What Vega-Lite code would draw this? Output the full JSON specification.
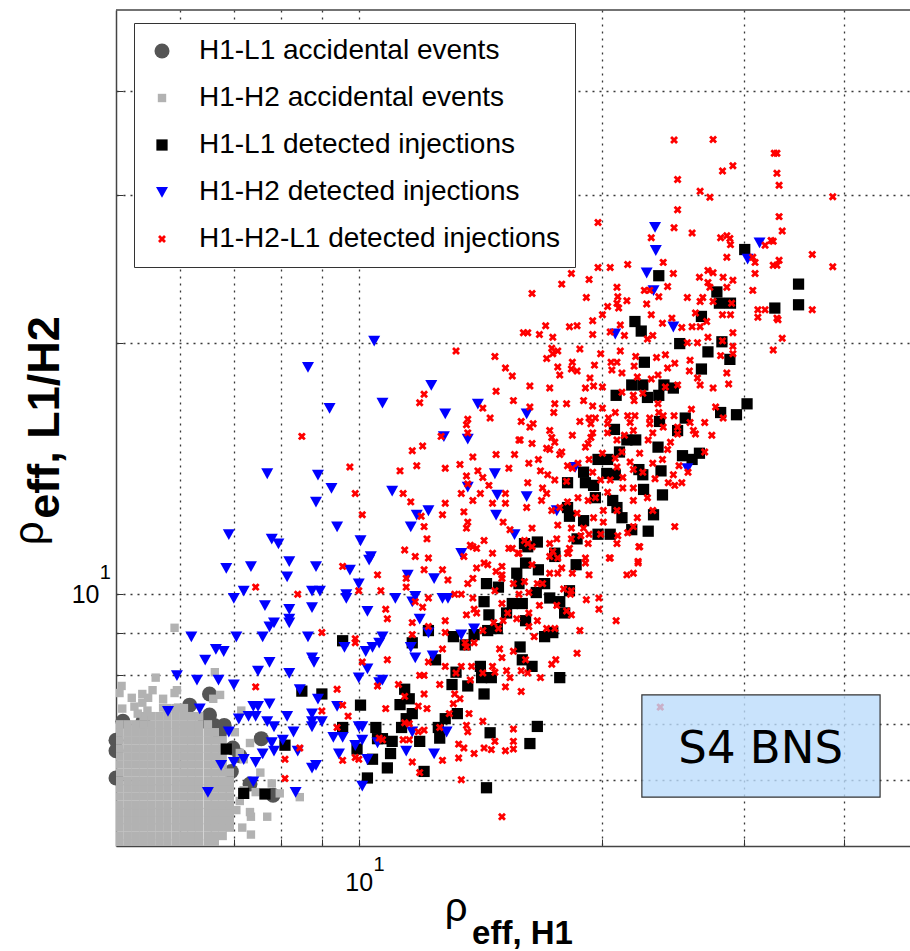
{"$schema":"https://vega.github.io/schema/vega-lite/v6.json","width":794,"height":836,"autosize":"none","padding":{"left":116,"top":10,"right":0,"bottom":105},"background":"white",
"config":{"view":{"stroke":null},"axis":{"grid":true,"gridColor":"#222","gridDash":[2,5],"gridWidth":1.3,"gridOpacity":0.9,"domainColor":"#444","domainWidth":1.5,"tickColor":"#333","tickSize":-7,"tickWidth":1,"labelFont":"Liberation Sans","labelFontSize":25,"labelColor":"#000","titleFont":"Liberation Sans","titleColor":"#000","labelOverlap":false,"labelFlush":false}},
"datasets":{
"dark":[{"x":6.53,"y":7.6},{"x":6.17,"y":7.37},{"x":6.45,"y":7.05},{"x":6.62,"y":6.97},{"x":6.72,"y":6.82},{"x":7.57,"y":6.72},{"x":6.98,"y":6.55},{"x":7.83,"y":5.75},{"x":5,"y":6.69},{"x":5,"y":6.5},{"x":5,"y":6.03},{"x":5.1,"y":7.05},{"x":5.4,"y":7.05},{"x":7.33,"y":5.93},{"x":7.12,"y":6.41},{"x":6.95,"y":6.14},{"x":6.81,"y":6.97},{"x":6.53,"y":7.17}],
"gray":[{"x":5.05,"y":5.03},{"x":5.05,"y":5.14},{"x":5.05,"y":5.26},{"x":5.05,"y":5.37},{"x":5.05,"y":5.49},{"x":5.05,"y":5.6},{"x":5.05,"y":5.73},{"x":5.05,"y":5.86},{"x":5.05,"y":5.98},{"x":5.05,"y":6.12},{"x":5.05,"y":6.26},{"x":5.05,"y":6.4},{"x":5.05,"y":6.54},{"x":5.05,"y":6.69},{"x":5.05,"y":6.84},{"x":5.05,"y":6.99},
{"x":5.17,"y":5.03},{"x":5.17,"y":5.14},{"x":5.17,"y":5.26},{"x":5.17,"y":5.37},{"x":5.17,"y":5.49},{"x":5.17,"y":5.6},{"x":5.17,"y":5.73},{"x":5.17,"y":5.86},{"x":5.17,"y":5.98},{"x":5.17,"y":6.12},{"x":5.17,"y":6.26},{"x":5.17,"y":6.4},{"x":5.17,"y":6.54},{"x":5.17,"y":6.69},{"x":5.17,"y":6.84},{"x":5.17,"y":6.99},
{"x":5.29,"y":5.03},{"x":5.29,"y":5.14},{"x":5.29,"y":5.26},{"x":5.29,"y":5.37},{"x":5.29,"y":5.49},{"x":5.29,"y":5.6},{"x":5.29,"y":5.73},{"x":5.29,"y":5.86},{"x":5.29,"y":5.98},{"x":5.29,"y":6.12},{"x":5.29,"y":6.26},{"x":5.29,"y":6.4},{"x":5.29,"y":6.54},{"x":5.29,"y":6.69},{"x":5.29,"y":6.84},{"x":5.29,"y":6.99},
{"x":5.41,"y":5.03},{"x":5.41,"y":5.14},{"x":5.41,"y":5.26},{"x":5.41,"y":5.37},{"x":5.41,"y":5.49},{"x":5.41,"y":5.6},{"x":5.41,"y":5.73},{"x":5.41,"y":5.86},{"x":5.41,"y":5.98},{"x":5.41,"y":6.12},{"x":5.41,"y":6.26},{"x":5.41,"y":6.4},{"x":5.41,"y":6.54},{"x":5.41,"y":6.69},{"x":5.41,"y":6.84},{"x":5.41,"y":6.99},{"x":5.41,"y":7.15},
{"x":5.53,"y":5.03},{"x":5.53,"y":5.14},{"x":5.53,"y":5.26},{"x":5.53,"y":5.37},{"x":5.53,"y":5.49},{"x":5.53,"y":5.6},{"x":5.53,"y":5.73},{"x":5.53,"y":5.86},{"x":5.53,"y":5.98},{"x":5.53,"y":6.12},{"x":5.53,"y":6.26},{"x":5.53,"y":6.4},{"x":5.53,"y":6.54},{"x":5.53,"y":6.69},{"x":5.53,"y":6.84},{"x":5.53,"y":6.99},{"x":5.53,"y":7.15},
{"x":5.66,"y":5.03},{"x":5.66,"y":5.14},{"x":5.66,"y":5.26},{"x":5.66,"y":5.37},{"x":5.66,"y":5.49},{"x":5.66,"y":5.6},{"x":5.66,"y":5.73},{"x":5.66,"y":5.86},{"x":5.66,"y":5.98},{"x":5.66,"y":6.12},{"x":5.66,"y":6.26},{"x":5.66,"y":6.4},{"x":5.66,"y":6.54},{"x":5.66,"y":6.69},{"x":5.66,"y":6.84},{"x":5.66,"y":6.99},{"x":5.66,"y":7.15},
{"x":5.79,"y":5.03},{"x":5.79,"y":5.14},{"x":5.79,"y":5.26},{"x":5.79,"y":5.37},{"x":5.79,"y":5.49},{"x":5.79,"y":5.6},{"x":5.79,"y":5.73},{"x":5.79,"y":5.86},{"x":5.79,"y":5.98},{"x":5.79,"y":6.12},{"x":5.79,"y":6.26},{"x":5.79,"y":6.4},{"x":5.79,"y":6.54},{"x":5.79,"y":6.69},{"x":5.79,"y":6.84},{"x":5.79,"y":6.99},{"x":5.79,"y":7.15},{"x":5.79,"y":7.31},
{"x":5.93,"y":5.03},{"x":5.93,"y":5.14},{"x":5.93,"y":5.26},{"x":5.93,"y":5.37},{"x":5.93,"y":5.49},{"x":5.93,"y":5.6},{"x":5.93,"y":5.73},{"x":5.93,"y":5.86},{"x":5.93,"y":5.98},{"x":5.93,"y":6.12},{"x":5.93,"y":6.26},{"x":5.93,"y":6.4},{"x":5.93,"y":6.54},{"x":5.93,"y":6.69},{"x":5.93,"y":6.84},{"x":5.93,"y":6.99},{"x":5.93,"y":7.15},{"x":5.93,"y":7.31},
{"x":6.07,"y":5.03},{"x":6.07,"y":5.14},{"x":6.07,"y":5.26},{"x":6.07,"y":5.37},{"x":6.07,"y":5.49},{"x":6.07,"y":5.6},{"x":6.07,"y":5.73},{"x":6.07,"y":5.86},{"x":6.07,"y":5.98},{"x":6.07,"y":6.12},{"x":6.07,"y":6.26},{"x":6.07,"y":6.4},{"x":6.07,"y":6.54},{"x":6.07,"y":6.69},{"x":6.07,"y":6.84},{"x":6.07,"y":6.99},{"x":6.07,"y":7.15},{"x":6.07,"y":7.31},
{"x":6.2,"y":5.03},{"x":6.2,"y":5.14},{"x":6.2,"y":5.26},{"x":6.2,"y":5.37},{"x":6.2,"y":5.49},{"x":6.2,"y":5.6},{"x":6.2,"y":5.73},{"x":6.2,"y":5.86},{"x":6.2,"y":5.98},{"x":6.2,"y":6.12},{"x":6.2,"y":6.26},{"x":6.2,"y":6.4},{"x":6.2,"y":6.54},{"x":6.2,"y":6.69},{"x":6.2,"y":6.84},{"x":6.2,"y":6.99},{"x":6.2,"y":7.15},
{"x":6.34,"y":5.03},{"x":6.34,"y":5.14},{"x":6.34,"y":5.26},{"x":6.34,"y":5.37},{"x":6.34,"y":5.49},{"x":6.34,"y":5.6},{"x":6.34,"y":5.73},{"x":6.34,"y":5.86},{"x":6.34,"y":5.98},{"x":6.34,"y":6.12},{"x":6.34,"y":6.26},{"x":6.34,"y":6.4},{"x":6.34,"y":6.54},{"x":6.34,"y":6.69},{"x":6.34,"y":6.84},{"x":6.34,"y":6.99},{"x":6.34,"y":7.15},
{"x":6.5,"y":5.03},{"x":6.5,"y":5.14},{"x":6.5,"y":5.26},{"x":6.5,"y":5.37},{"x":6.5,"y":5.49},{"x":6.5,"y":5.6},{"x":6.5,"y":5.73},{"x":6.5,"y":5.86},{"x":6.5,"y":5.98},{"x":6.5,"y":6.12},{"x":6.5,"y":6.26},{"x":6.5,"y":6.4},{"x":6.5,"y":6.54},{"x":6.5,"y":6.69},{"x":6.5,"y":6.84},{"x":6.5,"y":6.99},
{"x":6.63,"y":5.03},{"x":6.63,"y":5.14},{"x":6.63,"y":5.26},{"x":6.63,"y":5.37},{"x":6.63,"y":5.49},{"x":6.63,"y":5.6},{"x":6.63,"y":5.73},{"x":6.63,"y":5.86},{"x":6.63,"y":5.98},{"x":6.63,"y":6.12},{"x":6.63,"y":6.26},{"x":6.63,"y":6.4},{"x":6.63,"y":6.54},{"x":6.63,"y":6.69},{"x":6.63,"y":6.84},
{"x":6.78,"y":5.14},{"x":6.78,"y":5.26},{"x":6.78,"y":5.37},{"x":6.78,"y":5.49},{"x":6.78,"y":5.6},{"x":6.78,"y":5.73},{"x":6.78,"y":5.86},{"x":6.78,"y":5.98},{"x":6.78,"y":6.12},{"x":6.78,"y":6.26},{"x":6.78,"y":6.4},{"x":6.78,"y":6.54},{"x":6.78,"y":6.69},
{"x":6.92,"y":5.26},{"x":6.92,"y":5.37},{"x":6.92,"y":5.49},{"x":6.92,"y":5.6},{"x":6.92,"y":5.73},{"x":6.92,"y":5.86},{"x":6.92,"y":5.98},{"x":6.92,"y":6.12},
{"x":5.08,"y":7.77},{"x":5.05,"y":7.62},{"x":5.23,"y":7.52},{"x":5.39,"y":7.6},{"x":5.55,"y":7.68},{"x":5.6,"y":7.95},{"x":5.39,"y":7.42},{"x":5.48,"y":7.52},{"x":5.72,"y":7.5},{"x":5.95,"y":7.68},{"x":5.91,"y":7.62},{"x":5.09,"y":7.3},{"x":5.27,"y":7.34},{"x":5.32,"y":7.2},{"x":5.47,"y":7.26},{"x":5.72,"y":7.32},{"x":5.97,"y":7.32},{"x":6.63,"y":8.07},{"x":5.91,"y":9.12},{"x":6.6,"y":7.5},{"x":6.73,"y":7.58},{"x":7.02,"y":6.84},{"x":7.33,"y":6.64},{"x":7.15,"y":7.26},{"x":7.12,"y":6.46},{"x":7.2,"y":6.35},{"x":7.55,"y":6.12},{"x":7.45,"y":5.8},{"x":7.8,"y":5.94},{"x":7.98,"y":5.78},{"x":8.45,"y":5.72},{"x":7.7,"y":5.42},{"x":7.35,"y":5.42},{"x":7.35,"y":5.16},{"x":7.17,"y":5.26},{"x":7.33,"y":5.49},{"x":7.12,"y":5.66},{"x":7.05,"y":5.52},{"x":7.2,"y":5.83}],
"black":[{"x":16.05,"y":11.5},{"x":17.5,"y":11.1},{"x":16.1,"y":10.9},{"x":16.7,"y":10.7},{"x":18.6,"y":10.85},{"x":15.7,"y":10.6},{"x":14.4,"y":10.3},{"x":14.9,"y":10.2},{"x":15.8,"y":10.3},{"x":17,"y":10.3},{"x":18.25,"y":10.1},{"x":16.6,"y":10.05},{"x":17.25,"y":9.9},{"x":14.3,"y":9.8},{"x":15.5,"y":9.75},{"x":15.95,"y":9.75},{"x":15.25,"y":9.5},{"x":14.5,"y":9.45},{"x":17.75,"y":9.8},{"x":18,"y":9.5},{"x":16.1,"y":9.3},{"x":14.45,"y":9.05},{"x":14.85,"y":9.1},{"x":17,"y":8.9},{"x":17.4,"y":9},{"x":13.1,"y":8.9},{"x":13.9,"y":8.95},{"x":13.55,"y":8.7},{"x":12.2,"y":9.05},{"x":11.65,"y":8.75},{"x":12.45,"y":8.35},{"x":15.85,"y":8.65},{"x":15.95,"y":8.35},{"x":16.4,"y":8.2},{"x":14.15,"y":8.2},{"x":14.2,"y":7.95},{"x":14.6,"y":7.95},{"x":13.2,"y":8.07},{"x":13.05,"y":7.8},{"x":13.65,"y":7.77},{"x":14.3,"y":7.6},{"x":17.75,"y":7.95},{"x":11.4,"y":7.7},{"x":11.55,"y":7.5},{"x":11.25,"y":7.38},{"x":11.65,"y":7.2},{"x":11.45,"y":7.1},{"x":13.25,"y":7.2},{"x":12.8,"y":7.1},{"x":11.3,"y":6.93},{"x":11,"y":6.67},{"x":10.95,"y":6.45},{"x":12.55,"y":6.93},{"x":12.6,"y":6.73},{"x":11.9,"y":6.67},{"x":14.55,"y":6.83},{"x":16.65,"y":6.95},{"x":16.3,"y":6.63},{"x":10.85,"y":6.2},{"x":12.05,"y":6.14},{"x":14.4,"y":5.87},{"x":10.7,"y":6.72},
{"x":27.8,"y":23},{"x":28,"y":22.3},{"x":28.9,"y":22.3},{"x":26.6,"y":21.5},{"x":22,"y":21.2},{"x":22.4,"y":20.65},{"x":25,"y":19.95},{"x":28.2,"y":20.05},{"x":27.1,"y":19.5},{"x":28.85,"y":19.1},{"x":22.6,"y":18.95},{"x":26.6,"y":18.6},{"x":21.8,"y":17.8},{"x":22.5,"y":17.8},{"x":23.9,"y":17.8},{"x":20.85,"y":17.3},{"x":22.8,"y":17.2},{"x":23.55,"y":17.3},{"x":24.55,"y":17.65},{"x":30.3,"y":16.9},{"x":29.4,"y":16.4},{"x":28.1,"y":16.5},{"x":25.4,"y":16.25},{"x":23.6,"y":16.1},{"x":20.75,"y":15.75},{"x":24.85,"y":15.7},{"x":22.05,"y":15.3},{"x":21.5,"y":15.3},{"x":23.5,"y":15},{"x":21.05,"y":14.8},{"x":19.8,"y":14.5},{"x":20.35,"y":14.5},{"x":25.2,"y":14.65},{"x":26.45,"y":14.75},{"x":25.9,"y":14.5},{"x":22.25,"y":14.1},{"x":22.5,"y":13.9},{"x":23.7,"y":14.05},{"x":19,"y":14},{"x":20.3,"y":13.95},{"x":20.8,"y":13.9},{"x":18.15,"y":13.6},{"x":19.1,"y":13.6},{"x":19.55,"y":13.5},{"x":22.55,"y":13.35},{"x":23.8,"y":13.15},{"x":19.65,"y":13.05},{"x":20.65,"y":12.95},{"x":18.15,"y":12.7},{"x":20.9,"y":12.7},{"x":23.2,"y":12.45},{"x":18.25,"y":12.4},{"x":21.2,"y":12.35},{"x":19,"y":12.25},{"x":22.85,"y":11.9},{"x":21.8,"y":11.95},{"x":16.65,"y":11.55},{"x":19.8,"y":11.8},{"x":20.5,"y":11.8},{"x":18.65,"y":11.65},{"x":16.2,"y":11.4},{"x":17.5,"y":11.2},
{"x":23.55,"y":24.05},{"x":30.1,"y":25.85},{"x":35.1,"y":23.5},{"x":35.1,"y":22.2},{"x":32.8,"y":22},
{"x":6.85,"y":6.53},{"x":7.2,"y":5.78},{"x":7.65,"y":5.77},{"x":8.1,"y":6.6},{"x":8.5,"y":7.66},{"x":9,"y":7.6},{"x":9.55,"y":8.8},{"x":10.05,"y":7.37},{"x":9.55,"y":6.93},{"x":10.5,"y":6.93},{"x":10.55,"y":6.72},{"x":9.95,"y":6.53},{"x":10.4,"y":6.35},{"x":10.25,"y":6.03}],
"blue":[{"x":10.45,"y":20.1},{"x":8.65,"y":18.7},{"x":12.3,"y":17.8},{"x":9.2,"y":16.7},{"x":10.7,"y":16.95},{"x":12.8,"y":16.45},{"x":14.05,"y":16.9},{"x":12.75,"y":15.45},{"x":13.65,"y":15.35},{"x":7.7,"y":13.95},{"x":8.9,"y":13.9},{"x":14.75,"y":13.95},{"x":13.65,"y":13.45},{"x":9.25,"y":13.4},{"x":11,"y":13.3},{"x":14.85,"y":13.15},{"x":8.85,"y":12.9},{"x":12.2,"y":12.6},{"x":11.8,"y":12.45},{"x":14.8,"y":12.45},{"x":11.6,"y":12.05},{"x":9.4,"y":12.05},{"x":6.9,"y":11.8},{"x":7.8,"y":11.65},{"x":7.95,"y":11.5},{"x":10.05,"y":11.6},{"x":15.6,"y":11.8},{"x":13.4,"y":11.2},{"x":10.35,"y":11.1},{"x":10.3,"y":11},{"x":8.2,"y":10.95},{"x":6.85,"y":10.75},{"x":7.35,"y":10.8},{"x":8.85,"y":10.8},{"x":9.75,"y":10.7},{"x":8.15,"y":10.5},{"x":11.5,"y":10.55},{"x":12.4,"y":10.45},{"x":10,"y":10.3},{"x":7.2,"y":10.1},{"x":7,"y":9.9},{"x":8.75,"y":10.1},{"x":8.95,"y":10.1},{"x":9.65,"y":10},{"x":9.65,"y":9.9},{"x":11.1,"y":9.9},{"x":11.75,"y":9.95},{"x":12.7,"y":9.9},{"x":12.9,"y":9.9},{"x":7.65,"y":9.7},{"x":11.65,"y":9.8},{"x":8.75,"y":9.65},{"x":8.2,"y":9.6},{"x":10.25,"y":9.55},{"x":8.2,"y":9.35},{"x":8.2,"y":9.25},{"x":7.85,"y":9.25},{"x":7.75,"y":9.15},{"x":11.9,"y":9.35},{"x":13.9,"y":9.1},{"x":12.2,"y":9},{"x":13.4,"y":8.95},{"x":6.2,"y":8.9},{"x":7.05,"y":8.9},{"x":7.6,"y":8.9},{"x":8.65,"y":8.9},{"x":10.7,"y":8.9},{"x":9.6,"y":8.65},{"x":10.6,"y":8.75},{"x":10.4,"y":8.65},{"x":10.2,"y":8.55},{"x":6.45,"y":8.35},{"x":6.65,"y":8.6},{"x":6.8,"y":8.55},{"x":7.75,"y":8.3},{"x":8.75,"y":8.4},{"x":8.8,"y":8.3},{"x":5.95,"y":8},{"x":6.3,"y":7.9},{"x":6.7,"y":7.9},{"x":7,"y":7.8},{"x":7.5,"y":8.1},{"x":8.2,"y":8.05},{"x":10.25,"y":8.15},{"x":10,"y":7.95},{"x":10.6,"y":7.85},{"x":8.45,"y":7.7},{"x":8.9,"y":7.5},{"x":9.4,"y":7.35},{"x":5.8,"y":7.25},{"x":6.35,"y":7.3},{"x":7.1,"y":7.1},{"x":7.4,"y":7.35},{"x":7.5,"y":7.35},{"x":7.3,"y":7.15},{"x":7.45,"y":7.15},{"x":7.75,"y":7.4},{"x":7.7,"y":7.05},{"x":7.85,"y":6.95},{"x":8.15,"y":7.15},{"x":8.75,"y":7.2},{"x":8.75,"y":7.05},{"x":9,"y":7.05},{"x":8.75,"y":6.95},{"x":6.9,"y":6.85},{"x":8.3,"y":6.85},{"x":7.8,"y":6.65},{"x":8.05,"y":6.7},{"x":7.85,"y":6.5},{"x":9.3,"y":6.75},{"x":9.55,"y":6.75},{"x":10,"y":6.95},{"x":10.1,"y":6.95},{"x":10.1,"y":6.7},{"x":9.9,"y":6.6},{"x":10.55,"y":6.65},{"x":8.4,"y":6.5},{"x":7.6,"y":6.45},{"x":7.2,"y":6.35},{"x":7,"y":6.3},{"x":6.75,"y":6.25},{"x":7.45,"y":6.3},{"x":9.45,"y":6.45},{"x":10.25,"y":6.35},{"x":8.75,"y":6.2},{"x":8.85,"y":6.25},{"x":7.4,"y":5.97},{"x":10.1,"y":5.9},{"x":6.5,"y":5.8},{"x":8.35,"y":5.8},{"x":11.65,"y":6.85},{"x":12.85,"y":6.85},{"x":11.45,"y":6.5},{"x":12.4,"y":6.45},{"x":23.2,"y":23.1},{"x":20.8,"y":20.5},{"x":24.55,"y":20.9},{"x":16.15,"y":16.45},{"x":18.55,"y":14.2},{"x":25.55,"y":14.15},{"x":16.15,"y":13.1},{"x":17.6,"y":12.6},{"x":23.3,"y":27.5},{"x":23.35,"y":25.8},{"x":22.75,"y":24.25},{"x":31.4,"y":26.35},{"x":30.35,"y":25.2},{"x":11.6,"y":8.65},{"x":11.75,"y":8.4},{"x":12.35,"y":8.45},{"x":10.7,"y":7.9}],
"red":[{"x":24.6,"y":34.95},{"x":27.5,"y":35},{"x":32.75,"y":33.7},{"x":33,"y":33.7},{"x":29.1,"y":32.55},{"x":28.25,"y":32.1},{"x":33,"y":31.9},{"x":24.85,"y":31.35},{"x":33.2,"y":30.85},{"x":38.7,"y":29.9},{"x":26.5,"y":30.35},{"x":27.25,"y":29.85},{"x":24.85,"y":28.85},{"x":33.2,"y":28.3},{"x":19.8,"y":27.85},{"x":24.6,"y":27.45},{"x":25.9,"y":27.05},{"x":33.5,"y":27.2},{"x":23.05,"y":26.7},{"x":28.1,"y":26.7},{"x":28.6,"y":26.85},{"x":28.85,"y":26.65},{"x":28.9,"y":26.2},{"x":32.45,"y":26.5},{"x":32.65,"y":26.45},{"x":31.9,"y":26.15},{"x":23.85,"y":24.95},{"x":28.6,"y":25.3},{"x":36.5,"y":25.5},{"x":30.8,"y":25.3},{"x":31,"y":24.95},{"x":33.2,"y":25.1},{"x":32.65,"y":24.75},{"x":33,"y":24.75},{"x":38.7,"y":24.65},{"x":19.8,"y":24.6},{"x":20.5,"y":24.6},{"x":21.55,"y":24.8},{"x":18.35,"y":24.2},{"x":19.3,"y":23.8},{"x":17.85,"y":23.5},{"x":24.55,"y":24.2},{"x":26.45,"y":23.95},{"x":27.1,"y":24.4},{"x":27.5,"y":24.25},{"x":27.1,"y":23.6},{"x":28.3,"y":23.95},{"x":29.1,"y":23.75},{"x":31,"y":24.2},{"x":27.25,"y":23.3},{"x":28.6,"y":23.3},{"x":30.8,"y":23.1},{"x":20.9,"y":23.3},{"x":24.15,"y":23.35},{"x":23.55,"y":22.7},{"x":22.6,"y":23.1},{"x":22.95,"y":23.1},{"x":19.15,"y":22.65},{"x":20.95,"y":22.7},{"x":20.9,"y":22.3},{"x":21.5,"y":22.45},{"x":25.55,"y":22.65},{"x":26.7,"y":22.65},{"x":26.5,"y":22.4},{"x":27.5,"y":22.4},{"x":22.75,"y":22.25},{"x":20.35,"y":22.1},{"x":21,"y":22},{"x":20.05,"y":21.6},{"x":26.15,"y":21.7},{"x":23.05,"y":21.6},{"x":24.45,"y":21.4},{"x":28.25,"y":21.6},{"x":28.9,"y":21.6},{"x":29,"y":22.3},{"x":31.25,"y":21.9},{"x":31.9,"y":21.9},{"x":31.25,"y":21.45},{"x":36.5,"y":21.9},{"x":33,"y":21.4},
{"x":16.4,"y":22.9},{"x":33.1,"y":21.3},{"x":33.5,"y":20.25},{"x":32.65,"y":19.6},{"x":25.9,"y":20.9},{"x":27,"y":21.2},{"x":26.5,"y":20.9},{"x":29.1,"y":20.55},{"x":25.15,"y":20.85},{"x":21.1,"y":21},{"x":20.5,"y":20.6},{"x":21.35,"y":20.4},{"x":23.15,"y":20.4},{"x":22.8,"y":20.2},{"x":23.8,"y":21.1},{"x":17.05,"y":20.95},{"x":18.25,"y":20.9},{"x":18.65,"y":20.95},{"x":19.5,"y":21.25},{"x":16,"y":20.55},{"x":16.2,"y":20.55},{"x":16.75,"y":20.45},{"x":19.5,"y":20.45},{"x":17.4,"y":20.3},{"x":25.55,"y":20},{"x":26.3,"y":20},{"x":27.1,"y":20.3},{"x":28.25,"y":20.1},{"x":29.1,"y":19.8},{"x":17.35,"y":19.7},{"x":17.65,"y":19.55},{"x":17.4,"y":19.4},{"x":18.8,"y":19.65},{"x":19.95,"y":19.4},{"x":21.1,"y":19.55},{"x":24,"y":19.35},{"x":22.05,"y":19.25},{"x":23.4,"y":19.2},{"x":17.1,"y":19.15},{"x":28.1,"y":19.3},{"x":29.1,"y":19.4},{"x":25.75,"y":19.05},{"x":19.6,"y":18.8},{"x":18.4,"y":18.95},{"x":20.55,"y":18.95},{"x":20.9,"y":18.95},{"x":21.95,"y":18.75},{"x":24.65,"y":18.9},{"x":24.15,"y":18.65},{"x":15.2,"y":18.65},{"x":15.5,"y":18.25},{"x":17.65,"y":18.7},{"x":18.35,"y":18.6},{"x":18.65,"y":18.5},{"x":20.6,"y":18.55},{"x":21.2,"y":18.4},{"x":25.7,"y":18.5},{"x":28.6,"y":18.4},{"x":28.75,"y":17.85},{"x":17.75,"y":18.3},{"x":19.35,"y":18.15},{"x":22.15,"y":18.2},{"x":23.5,"y":18.3},{"x":23.05,"y":18.1},{"x":26.3,"y":18.15},{"x":26.5,"y":17.8},{"x":16.3,"y":17.75},{"x":17.25,"y":17.65},{"x":19.1,"y":17.65},{"x":19.55,"y":17.75},{"x":20.05,"y":17.7},{"x":27.5,"y":17.65},{"x":21.2,"y":17.45},{"x":21.9,"y":17.3},{"x":22.5,"y":17.4},{"x":24,"y":17.7},{"x":24.85,"y":17.8},{"x":15.55,"y":17.05},{"x":17.5,"y":16.9},{"x":18.1,"y":16.9},{"x":19,"y":17.05},{"x":19.5,"y":16.8},{"x":21.95,"y":17.05},{"x":23.5,"y":16.9},{"x":20.05,"y":16.7},{"x":17.45,"y":16.5},{"x":20.8,"y":16.5},{"x":20.4,"y":16.25},{"x":21.55,"y":16.35},{"x":22,"y":16.35},{"x":23.55,"y":16.5},{"x":24.6,"y":16.35},{"x":25.85,"y":16.65},{"x":27.7,"y":16.75},{"x":28.3,"y":16.25},{"x":16.3,"y":16.75},{"x":15.9,"y":16.1},{"x":16.45,"y":16},{"x":16.3,"y":15.85},{"x":18.8,"y":16.1},{"x":19.3,"y":16.25},{"x":19.65,"y":16.25},{"x":19.4,"y":16},{"x":20.35,"y":16},{"x":21.7,"y":16.05},{"x":22.95,"y":16.25},{"x":23.85,"y":16.35},{"x":25.75,"y":16.05},{"x":26.85,"y":16.05},{"x":24.85,"y":15.85},{"x":22.95,"y":16},{"x":23.85,"y":15.85},{"x":17.25,"y":15.7},{"x":19.5,"y":15.6},{"x":20.35,"y":15.6},{"x":21.35,"y":15.5},{"x":23.15,"y":15.6},{"x":26,"y":15.7},{"x":24.85,"y":15.55},{"x":27.4,"y":15.5},{"x":26.15,"y":15.55},{"x":15.85,"y":15.3},{"x":17.35,"y":15.4},{"x":18.4,"y":15.5},{"x":19.4,"y":15.4},{"x":16.4,"y":15.15},{"x":17.5,"y":15.2},{"x":19.25,"y":15.15},{"x":20.9,"y":15.3},{"x":21.9,"y":15.7},{"x":22.85,"y":15.3},{"x":24.35,"y":15.2},{"x":19.1,"y":15},{"x":17.1,"y":14.95},{"x":17.25,"y":14.9},{"x":17.85,"y":14.8},{"x":17.75,"y":14.7},{"x":15.6,"y":14.7},{"x":15.35,"y":14.15},{"x":16.25,"y":14.35},{"x":16.7,"y":14.5},{"x":20.8,"y":14.55},{"x":21.2,"y":14.8},{"x":22.3,"y":14.75},{"x":24.15,"y":14.9},{"x":26.85,"y":14.8},{"x":21.7,"y":14.4},{"x":19.3,"y":14.5},{"x":20.05,"y":14.75},{"x":23.15,"y":14.35},{"x":23.8,"y":14.5},{"x":24.95,"y":14.25},{"x":16.8,"y":14.05},{"x":17.15,"y":13.9},{"x":17.5,"y":13.7},{"x":18.15,"y":14.25},{"x":18.4,"y":14.15},{"x":18.7,"y":14.35},{"x":18.1,"y":13.65},{"x":19.5,"y":14},{"x":20.9,"y":14.2},{"x":22.5,"y":14},{"x":21.9,"y":14.1},{"x":23.3,"y":13.75},{"x":24.55,"y":13.9},{"x":25.15,"y":13.6},{"x":25.6,"y":14},{"x":24.2,"y":13.6},{"x":24.65,"y":13.5},{"x":16.2,"y":13.6},{"x":16.9,"y":13.4},{"x":17.1,"y":13.2},{"x":15.2,"y":13.2},{"x":16.85,"y":12.95},{"x":16.15,"y":12.7},{"x":19.95,"y":13.7},{"x":20.5,"y":13.7},{"x":21.25,"y":13.8},{"x":21.9,"y":13.4},{"x":20.35,"y":13.25},{"x":18.7,"y":13.05},{"x":19.65,"y":13.05},{"x":21.25,"y":13.4},{"x":22.8,"y":13.05},{"x":21.9,"y":12.95},{"x":17.35,"y":12.6},{"x":17.75,"y":12.7},{"x":18.15,"y":12.9},{"x":18.65,"y":12.5},{"x":19.25,"y":12.95},{"x":20.1,"y":12.6},{"x":20.9,"y":12.6},{"x":23.15,"y":12.6},{"x":19.55,"y":12.35},{"x":22.15,"y":12.35},{"x":21.9,"y":12.05},{"x":24.65,"y":12.05},{"x":16.4,"y":12},{"x":17.65,"y":12.1},{"x":18.35,"y":12},{"x":19,"y":12},{"x":20.1,"y":12.2},{"x":20.95,"y":11.75},{"x":21.55,"y":11.85},{"x":17.6,"y":11.65},{"x":18.35,"y":11.65},{"x":18.85,"y":11.75},{"x":19.3,"y":11.8},{"x":19.95,"y":11.8},{"x":17.25,"y":11.5},{"x":15.35,"y":11.35},{"x":16.05,"y":11.6},{"x":18.25,"y":11.35},{"x":19.25,"y":11.5},{"x":20.9,"y":11.5},{"x":22.3,"y":11.4},{"x":20.5,"y":11.05},{"x":22.2,"y":10.95},{"x":18.15,"y":11.2},{"x":17.25,"y":11.1},{"x":19.1,"y":11.05},{"x":16.4,"y":11.4},
{"x":13.2,"y":19.55},{"x":14.75,"y":19.25},{"x":12.05,"y":17.35},{"x":11.9,"y":16.95},{"x":14.8,"y":17.5},{"x":14.25,"y":16.7},{"x":14.55,"y":16.25},{"x":13.65,"y":16.2},{"x":13.6,"y":15.95},{"x":13.65,"y":15.6},{"x":12.65,"y":15.45},{"x":8.5,"y":15.45},{"x":12,"y":15.05},{"x":11.65,"y":14.85},{"x":15.8,"y":15.3},{"x":14.8,"y":14.7},{"x":13.85,"y":14.6},{"x":11.8,"y":14.25},{"x":13.35,"y":14.3},{"x":12.8,"y":14.15},{"x":11.25,"y":14.05},{"x":9.75,"y":14.2},{"x":14.05,"y":14.05},{"x":13.6,"y":13.85},{"x":14.25,"y":13.8},{"x":13.65,"y":13.55},{"x":14.5,"y":13.5},{"x":13.4,"y":13.2},{"x":14.15,"y":13.2},{"x":11.35,"y":13.2},{"x":9.9,"y":13.2},{"x":11.6,"y":12.9},{"x":13.85,"y":12.95},{"x":15.2,"y":12.85},{"x":12.8,"y":12.85},{"x":12.7,"y":12.45},{"x":14.65,"y":12.85},{"x":13.5,"y":12.55},{"x":10.1,"y":12.45},{"x":15.1,"y":12.2},{"x":11.95,"y":12.4},{"x":12.05,"y":12.05},{"x":13.65,"y":12.2},{"x":13.6,"y":12},{"x":15.4,"y":11.95},{"x":12.15,"y":11.65},{"x":14.3,"y":11.6},{"x":13.75,"y":11.45},{"x":14,"y":11.35},{"x":14.65,"y":11.2},{"x":15.75,"y":11.2},{"x":11.4,"y":11.3},{"x":11.75,"y":11.1},{"x":12.2,"y":11.05},{"x":13.5,"y":11.1},{"x":14.3,"y":10.9},{"x":14.45,"y":10.85},{"x":15.05,"y":10.8},{"x":14,"y":10.75},{"x":9.55,"y":10.8},{"x":12.05,"y":10.7},{"x":12.7,"y":10.7},{"x":15.05,"y":10.45},{"x":12.9,"y":10.4},{"x":13.85,"y":10.45},{"x":13.65,"y":10.3},{"x":10.55,"y":10.55},{"x":11.45,"y":10.45},{"x":11.45,"y":10.2},{"x":7.45,"y":10.2},{"x":10,"y":10.1},{"x":10.65,"y":10.1},{"x":8.4,"y":10},{"x":13.15,"y":10},{"x":13.4,"y":10},{"x":13.85,"y":9.9},{"x":12.2,"y":9.9},{"x":11.75,"y":9.8},{"x":12,"y":9.65},{"x":10.8,"y":9.6},{"x":10.85,"y":9.35},{"x":15.05,"y":9.75},{"x":14.75,"y":10.1},{"x":13.6,"y":9.45},{"x":13.9,"y":9.6},{"x":15.3,"y":9.5},{"x":11.65,"y":9.25},{"x":12.8,"y":9.3},{"x":14.25,"y":9.05},{"x":14.9,"y":9.1},{"x":9,"y":9},{"x":12.2,"y":9.15},{"x":11.65,"y":8.95},{"x":9.9,"y":8.85},{"x":12.8,"y":9},
{"x":13.85,"y":11.4},{"x":14.8,"y":10.65},{"x":15.05,"y":10.55},{"x":15.55,"y":10.3},{"x":12.7,"y":8.6},{"x":14,"y":9.5},{"x":14.7,"y":9.25},{"x":13.55,"y":8.75},{"x":13.6,"y":8.65},{"x":13.9,"y":8.75},{"x":12.2,"y":8.3},{"x":10.85,"y":8.35},{"x":12.8,"y":8.2},{"x":13.4,"y":8.2},{"x":13.8,"y":8.2},{"x":14.65,"y":8.2},{"x":14.95,"y":8.6},{"x":15.05,"y":8.4},{"x":15.55,"y":8.55},{"x":16.1,"y":8.35},{"x":17.55,"y":8.35},{"x":17.35,"y":8.25},{"x":18.65,"y":8.5},{"x":18.8,"y":9.05},{"x":20.85,"y":9.3},{"x":21.5,"y":10.55},{"x":21.9,"y":10.6},{"x":22.2,"y":10.9},{"x":20.45,"y":11.05},{"x":22.25,"y":11.4},{"x":19.3,"y":10.55},{"x":19.1,"y":10.9},{"x":19.85,"y":9.9},{"x":19.85,"y":9.6},{"x":19.15,"y":9.85},{"x":18.3,"y":10},{"x":11.9,"y":8},{"x":12.05,"y":8},{"x":12.6,"y":7.8},{"x":13.2,"y":8.05},{"x":13.75,"y":7.9},{"x":14.25,"y":8.05},{"x":14.75,"y":8.07},{"x":15.25,"y":8.1},{"x":15.4,"y":7.95},{"x":15.2,"y":7.75},{"x":15.9,"y":8.1},{"x":16.2,"y":8.05},{"x":16.8,"y":7.95},{"x":15.9,"y":7.65},{"x":11.2,"y":7.8},{"x":11.4,"y":7.55},{"x":12.05,"y":7.6},{"x":13.15,"y":7.6},{"x":13.35,"y":7.5},{"x":10.8,"y":7.3},{"x":11.85,"y":7.35},{"x":12.15,"y":7.3},{"x":13.1,"y":7.4},{"x":13.7,"y":7.2},{"x":12.95,"y":7.2},{"x":11.4,"y":7.02},{"x":11.55,"y":7},{"x":12.6,"y":6.93},{"x":12.05,"y":6.88},{"x":11.85,"y":6.85},{"x":13.6,"y":6.97},{"x":14.25,"y":7.05},{"x":13.65,"y":6.85},{"x":15.55,"y":6.9},{"x":10.7,"y":6.7},{"x":11.35,"y":6.7},{"x":11.55,"y":6.7},{"x":13.3,"y":6.62},{"x":13.5,"y":6.55},{"x":14.3,"y":6.55},{"x":14.75,"y":6.67},{"x":14.6,"y":6.52},{"x":15.2,"y":6.5},{"x":15.55,"y":6.67},{"x":15.55,"y":6.53},{"x":13.9,"y":6.45},{"x":11.65,"y":6.3},{"x":12.7,"y":6.33},{"x":13.3,"y":6.37},{"x":11.9,"y":6.12},{"x":13.4,"y":6},{"x":15.05,"y":5.42},{"x":15.5,"y":11.35},{"x":15.8,"y":11.2},{"x":16.2,"y":11.5},{"x":16.4,"y":10.85},{"x":16.05,"y":10.35},{"x":16.9,"y":10.3},{"x":17.25,"y":10.6},{"x":17.65,"y":10.6},{"x":16.65,"y":10.3},{"x":16.25,"y":10.05},{"x":15.8,"y":10},{"x":17.4,"y":11.25},{"x":17.65,"y":11.05},{"x":18.2,"y":11.2},{"x":17.85,"y":10.75},{"x":18.4,"y":10.6},{"x":18.35,"y":10.1},{"x":17.95,"y":10.15},{"x":17.6,"y":9.7},{"x":18.1,"y":9.55},{"x":18.35,"y":9.45},{"x":16.25,"y":9.5},{"x":16.65,"y":9.3},{"x":16.25,"y":9.15},{"x":16.5,"y":8.9},{"x":15.7,"y":9.35},{"x":15.1,"y":9.3},{"x":17.1,"y":9.1},{"x":17.5,"y":9.1},{"x":16.75,"y":9.7},
{"x":9.9,"y":8.75},{"x":10.1,"y":8.3},{"x":7.45,"y":7.75},{"x":9.4,"y":7.7},{"x":10.55,"y":7.77},{"x":9.55,"y":7.37},{"x":9,"y":7.25},{"x":9.7,"y":7.15},{"x":9.4,"y":6.93},{"x":10.6,"y":6.73},{"x":8.45,"y":6.55},{"x":8.1,"y":6.35},{"x":9.55,"y":6.33},{"x":9.9,"y":6.38},{"x":10,"y":6.35},{"x":8.1,"y":6.02},{"x":23.65,"y":7.33}]
},
"encoding":{
"x":{"field":"x","type":"quantitative","scale":{"type":"log","domain":[5,48.25],"nice":false},"axis":{"values":[6,7,8,9,10,20,30,40],"labelExpr":"datum.value==10?'10':''","labelPadding":31,"title":"eff, H1","titleFontSize":33,"titleFontWeight":"bold","titleX":406,"titleY":97,"titleBaseline":"alphabetic","titleAlign":"center"}},
"y":{"field":"y","type":"quantitative","scale":{"type":"log","domain":[5,50],"nice":false},"axis":{"values":[6,7,8,9,10,20,30,40],"labelExpr":"datum.value==10?'10':''","labelPadding":24,"title":"eff, L1/H2","titleFontSize":45,"titleFontWeight":"bold","titleX":-58,"titleY":407,"titleBaseline":"alphabetic","titleAlign":"center"}}
},
"layer":[
{"data":{"name":"dark"},"mark":{"type":"point","filled":true,"opacity":1,"size":225},"encoding":{
"color":{"datum":"H1-L1 accidental events","type":"nominal","scale":{"domain":["H1-L1 accidental events","H1-H2 accidental events","H1-L1 detected injections","H1-H2 detected injections","H1-H2-L1 detected injections"],"range":["#555555","#b2b2b2","#000000","#0000ff","#ff0000"]},"legend":{"title":null,"orient":"none","legendX":18,"legendY":13,"padding":14,"fillColor":"#ffffff","strokeColor":"#333333","labelFont":"Liberation Sans","labelFontSize":28,"labelColor":"#000","labelOffset":23,"rowPadding":19,"zindex":1,"labelLimit":500,"symbolStrokeWidth":0,"symbolSize":225}},
"shape":{"datum":"H1-L1 accidental events","type":"nominal","scale":{"domain":["H1-L1 accidental events","H1-H2 accidental events","H1-L1 detected injections","H1-H2 detected injections","H1-H2-L1 detected injections"],"range":["circle","M-.56,-.56L.56,-.56L.56,.56L-.56,.56Z","M-.75,-.75L.75,-.75L.75,.75L-.75,.75Z","M-.8,-.68L.8,-.68L0,.76Z","M-.53,-.27L-.27,-.53L0,-.27L.27,-.53L.53,-.27L.27,0L.53,.27L.27,.53L0,.27L-.27,.53L-.53,.27L-.27,0Z"]}}}},
{"data":{"name":"gray"},"mark":{"type":"point","filled":true,"opacity":1,"clip":true,"size":225},"encoding":{
"color":{"datum":"H1-H2 accidental events","type":"nominal"},"shape":{"datum":"H1-H2 accidental events","type":"nominal"}}},
{"data":{"name":"black"},"mark":{"type":"point","filled":true,"opacity":1,"size":225},"encoding":{
"color":{"datum":"H1-L1 detected injections","type":"nominal"},"shape":{"datum":"H1-L1 detected injections","type":"nominal"}}},
{"data":{"name":"blue"},"mark":{"type":"point","filled":true,"opacity":1,"size":225},"encoding":{
"color":{"datum":"H1-H2 detected injections","type":"nominal"},"shape":{"datum":"H1-H2 detected injections","type":"nominal"}}},
{"data":{"name":"red"},"mark":{"type":"point","filled":true,"opacity":1,"size":225},"encoding":{
"color":{"datum":"H1-H2-L1 detected injections","type":"nominal"},"shape":{"datum":"H1-H2-L1 detected injections","type":"nominal"}}},
{"data":{"values":[{"x":5,"x2":48.25,"y":50}]},"mark":{"type":"rule","color":"#444","strokeWidth":1.5},"encoding":{"x2":{"field":"x2"}}},
{"data":{"values":[{"x":22.44,"x2":44.3,"y":5.72,"y2":7.58}]},"mark":{"type":"rect","fill":"#bcdcfb","fillOpacity":0.8,"stroke":"#333","strokeWidth":1.2},"encoding":{"x2":{"field":"x2"},"y2":{"field":"y2"}}},
{"data":{"values":[{"x":31.5,"y":6.53,"label":"S4 BNS"}]},"mark":{"type":"text","font":"DejaVu Sans","fontSize":45,"color":"#000","align":"center","baseline":"middle"},"encoding":{"text":{"field":"label"}}},
{"data":{"values":[{"x":13.2,"y":4.2,"label":"ρ"}]},"mark":{"type":"text","font":"Liberation Sans","fontSize":40,"color":"#000","align":"center","baseline":"middle"},"encoding":{"text":{"field":"label"}}},
{"data":{"values":[{"x":3.91,"y":11.83,"label":"ρ"}]},"mark":{"type":"text","font":"Liberation Sans","fontSize":42,"color":"#000","align":"center","baseline":"middle","angle":270},"encoding":{"text":{"field":"label"}}},
{"data":{"values":[{"x":10.6,"y":4.74,"label":"1"},{"x":4.85,"y":10.6,"label":"1"}]},"mark":{"type":"text","font":"Liberation Sans","fontSize":20,"color":"#000","align":"center","baseline":"middle"},"encoding":{"text":{"field":"label"}}}
]}
